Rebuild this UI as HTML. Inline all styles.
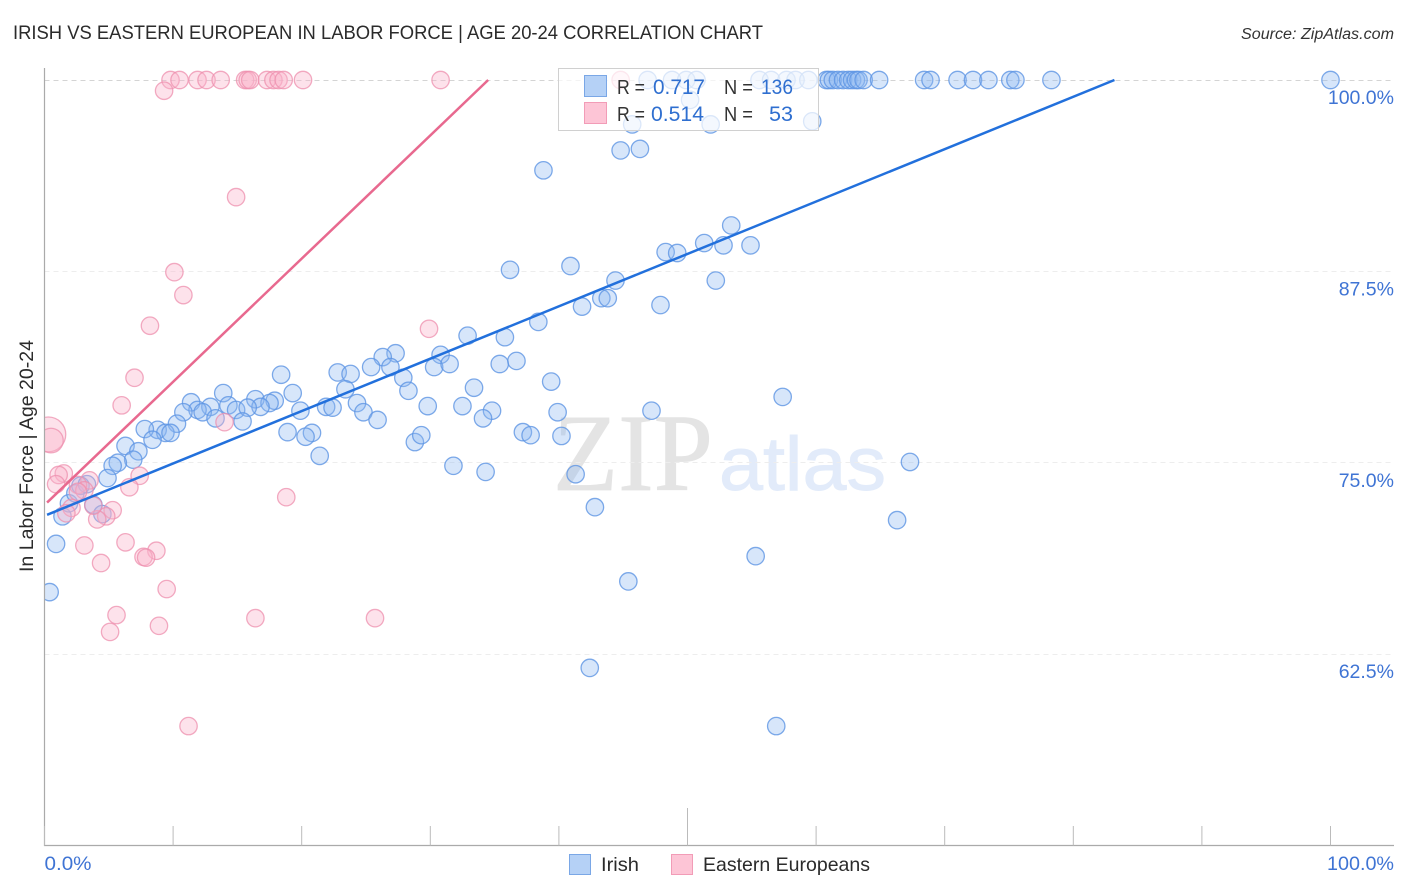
<!DOCTYPE html>
<html lang="en">
<head>
<meta charset="utf-8">
<title>Irish vs Eastern European in Labor Force | Age 20-24 Correlation Chart</title>
<style>
html,body{margin:0;padding:0;background:#fff;width:1406px;height:892px;overflow:hidden}
svg{display:block;font-family:"Liberation Sans",sans-serif}
</style>
</head>
<body>
<svg id="chart" xmlns="http://www.w3.org/2000/svg" width="1406" height="892" viewBox="0 0 1406 892">
  <text x="13" y="39" font-size="19.5" fill="#2b2b2b" textLength="750" lengthAdjust="spacingAndGlyphs">IRISH VS EASTERN EUROPEAN IN LABOR FORCE | AGE 20-24 CORRELATION CHART</text>
  <text x="1241" y="39" font-size="15.5" font-style="italic" fill="#333" textLength="153" lengthAdjust="spacingAndGlyphs">Source: ZipAtlas.com</text>
  <g>
    <text x="553" y="490" font-family="'Liberation Serif',serif" font-size="110" fill="#e4e4e4" stroke="#e4e4e4" stroke-width="0.8" textLength="160" lengthAdjust="spacingAndGlyphs">ZIP</text>
    <text x="719" y="490" font-size="76" fill="#e2ebfa" stroke="#e2ebfa" stroke-width="0.9" textLength="167" lengthAdjust="spacingAndGlyphs">atlas</text>
  </g>
  <g id="grid"></g>
  <g id="series-irish"></g>
  <g id="series-eastern"></g>
  <rect x="0" y="60" width="44.5" height="790" fill="#fff"/>
  <g id="trends"></g>
  <g id="axes"></g>
  <text transform="translate(33,572) rotate(-90)" font-size="19" fill="#2b2b2b" textLength="232" lengthAdjust="spacingAndGlyphs">In Labor Force | Age 20-24</text>

  <g>
    <rect x="558.5" y="68.5" width="260" height="62" fill="#fff" fill-opacity="0.72" stroke="#d0d0d0" stroke-width="1"/>
    <rect x="584.5" y="75.5" width="22" height="21" fill="#b5d1f6" stroke="#7aa7e6" stroke-width="1"/>
    <rect x="584.5" y="102.5" width="22" height="21" fill="#fdc5d6" stroke="#f29cb7" stroke-width="1"/>
    <text x="617" y="94" font-size="20" fill="#333" textLength="28" lengthAdjust="spacingAndGlyphs">R =</text>
    <text x="653" y="94" font-size="21" fill="#2f6fd0" textLength="52" lengthAdjust="spacingAndGlyphs">0.717</text>
    <text x="724" y="94" font-size="20" fill="#333" textLength="29" lengthAdjust="spacingAndGlyphs">N =</text>
    <text x="761" y="94" font-size="21" fill="#2f6fd0" textLength="32" lengthAdjust="spacingAndGlyphs">136</text>
    <text x="617" y="121" font-size="20" fill="#333" textLength="28" lengthAdjust="spacingAndGlyphs">R =</text>
    <text x="651" y="121" font-size="21" fill="#2f6fd0" textLength="53" lengthAdjust="spacingAndGlyphs">0.514</text>
    <text x="724" y="121" font-size="20" fill="#333" textLength="29" lengthAdjust="spacingAndGlyphs">N =</text>
    <text x="769" y="121" font-size="21" fill="#2f6fd0" textLength="24" lengthAdjust="spacingAndGlyphs">53</text>
  </g>

  <g>
    <g>
      <rect x="569.5" y="854.5" width="21" height="20" fill="#b5d1f6" stroke="#7aa7e6" stroke-width="1"/>
      <text x="601" y="871" font-size="19.5" fill="#2b2b2b" textLength="38" lengthAdjust="spacingAndGlyphs">Irish</text>
    </g>
    <g>
      <rect x="671.5" y="854.5" width="21" height="20" fill="#fdc5d6" stroke="#f29cb7" stroke-width="1"/>
      <text x="703" y="871" font-size="19.5" fill="#2b2b2b" textLength="167" lengthAdjust="spacingAndGlyphs">Eastern Europeans</text>
    </g>
  </g>
</svg>
<script>
const yGridValues = [100, 87.5, 75, 62.5];
const yTickLabels = ["100.0%", "87.5%", "75.0%", "62.5%"];
const xTickValues = [0, 10, 20, 30, 40, 50, 60, 70, 80, 90, 100];
const xEndValues = [0, 100];
const xEndLabels = ["0.0%", "100.0%"];

const irishX = [46.9,48.8,49.9,50.7,55.6,56.5,57.7,58.4,59.4,60.8,61.0,61.3,61.7,62.1,62.5,62.8,63.1,63.3,63.7,64.9,68.4,68.9,71.0,72.2,73.4,75.1,75.5,78.3,100,
50.2,45.7,51.8,59.7,44.8,46.3,38.8,53.4,51.3,52.8,54.9,48.3,49.2,36.2,40.9,44.4,52.2,43.3,43.8,41.8,47.9,38.4,35.8,32.9,30.8,30.3,31.5,27.3,26.3,26.9,25.4,22.8,23.8,18.4,23.4,27.9,28.3,35.4,36.7,39.4,33.4,29.8,32.5,34.8,34.1,39.9,47.2,57.4,
13.9,11.4,19.3,16.4,17.9,17.5,16.8,14.3,12.9,11.9,10.8,12.3,13.3,14.9,15.8,15.4,19.9,21.9,22.4,24.3,24.8,25.9,10.3,8.8,7.8,9.4,9.8,8.4,6.3,7.3,6.9,5.7,5.3,4.9,18.9,20.8,20.3,21.4,28.8,29.3,37.2,37.8,40.2,31.8,34.3,41.3,67.3,42.8,66.3,55.3,45.4,42.4,56.9,0.4,0.9,1.4,1.9,2.4,2.8,3.3,3.8,4.5];
const irishY = [100,100,100,100,100,100,100,100,100,100,100,100,100,100,100,100,100,100,100,100,100,100,100,100,100,100,100,100,100,
98.7,97.1,97.1,97.3,95.4,95.5,94.1,90.5,89.35,89.2,89.2,88.76,88.7,87.6,87.85,86.9,86.9,85.75,85.75,85.2,85.3,84.2,83.2,83.3,82.05,81.25,81.45,82.15,81.9,81.25,81.25,80.9,80.8,80.75,79.8,80.55,79.7,81.45,81.65,80.3,79.9,78.7,78.7,78.4,77.9,78.3,78.4,79.3,
79.55,78.95,79.55,79.15,79.05,78.9,78.65,78.75,78.65,78.45,78.3,78.3,77.9,78.45,78.6,77.7,78.4,78.65,78.6,78.9,78.3,77.8,77.55,77.15,77.2,76.95,76.95,76.5,76.1,75.75,75.2,75.0,74.8,74.0,77.0,76.95,76.7,75.45,76.35,76.8,77.0,76.8,76.75,74.8,74.4,74.25,75.05,72.1,71.25,68.9,67.25,61.6,57.8,66.55,69.7,71.5,72.35,73.0,73.5,73.6,72.25,71.65];

const easternX = [9.8,10.5,11.9,12.6,13.7,15.6,15.8,16.0,17.3,17.8,18.2,18.6,20.1,30.8,44.8,9.3,14.9,10.1,10.8,8.2,29.9,7.0,6.0,14.0,0.3,0.5,1.5,1.1,0.9,3.5,2.6,3.1,2.6,7.4,6.6,2.1,1.7,5.3,4.8,4.1,3.8,18.8,3.1,6.3,8.7,7.7,7.9,4.4,9.5,5.6,5.1,8.9,16.4,25.7,11.2];
const easternY = [100,100,100,100,100,100,100,100,100,100,100,100,100,100,100,99.3,92.35,87.45,85.95,83.95,83.75,80.55,78.75,77.65,76.85,76.45,74.3,74.2,73.6,73.85,73.55,73.2,73.1,74.15,73.4,72.05,71.7,71.9,71.5,71.3,72.2,72.75,69.6,69.8,69.25,68.85,68.8,68.45,66.75,65.05,63.95,64.35,64.85,64.85,57.8];
const easternWeights = [1,1,1,1,1,1,1,1,1,1,1,1,1,1,1,1,1,1,1,1,1,1,1,1,4,2,1,1,1,1,1,1,1,1,1,1,1,1,1,1,1,1,1,1,1,1,1,1,1,1,1,1,1,1,1];

const irishTrendX = [0.2, 83.2];
const irishTrendY = [71.6, 100];
const easternTrendX = [0.2, 34.5];
const easternTrendY = [72.4, 100];

const NS = "http://www.w3.org/2000/svg";
function xs(v){ return 44.5 + v * 12.86; }
function ys(v){ return 845.5 - (v - 50) * 15.31; }
function make(tag, attrs, parent){
  const el = document.createElementNS(NS, tag);
  for (const k in attrs) el.setAttribute(k, attrs[k]);
  parent.appendChild(el);
  return el;
}

const grid = document.getElementById("grid");
const axes = document.getElementById("axes");

yGridValues.forEach(function(v, i){
  const gy = Math.floor(ys(v)) + 0.5;
  const line = make("line", {x1:44.5, x2:1394, y1:gy, y2:gy, stroke:i===0?"#d4d4d4":"#ededed", "stroke-width":1, "stroke-dasharray":"5 4"}, grid);
  
  
  const label = make("text", {x:1394, y:ys(v)+24, "font-size":19.5, fill:"#3f74d4", "text-anchor":"end"}, axes);
  label.textContent = yTickLabels[i];
  
  
});

const yAxis = make("line", {x1:44.5, x2:44.5, y1:68, y2:846, stroke:"#aaaaaa", "stroke-width":1.2}, axes);


const xAxis = make("line", {x1:44, x2:1394, y1:845.5, y2:845.5, stroke:"#aaaaaa", "stroke-width":1.2}, axes);



xTickValues.forEach(function(v){
  const top = v === 50 ? 808 : 826;
  const tick = make("line", {x1:xs(v), x2:xs(v), y1:top, y2:845.5, stroke:"#bbbbbb", "stroke-width":1}, axes);
  
  
});

xEndValues.forEach(function(v, i){
  const anchor = i === 0 ? "start" : "end";
  const px = i === 0 ? xs(v) : 1394;
  const label = make("text", {x:px, y:870, "font-size":19.5, fill:"#3f74d4", "text-anchor":anchor, textLength:i===0?47:67, lengthAdjust:"spacingAndGlyphs"}, axes);
  label.textContent = xEndLabels[i];
  
  
});

const irishGroup = document.getElementById("series-irish");
irishX.forEach(function(v, i){
  const c = make("circle", {cx:xs(v), cy:ys(irishY[i]), r:8.7, fill:"#8db8f2", "fill-opacity":0.35, stroke:"#5e95e4", "stroke-opacity":0.8, "stroke-width":1.3}, irishGroup);
  
  
});

const easternGroup = document.getElementById("series-eastern");
easternX.forEach(function(v, i){
  const radius = 8.7 * Math.sqrt(easternWeights[i]);
  const c = make("circle", {cx:xs(v), cy:ys(easternY[i]), r:radius, fill:"#fbb4ca", "fill-opacity":0.38, stroke:"#ee8fae", "stroke-opacity":0.75, "stroke-width":1.3}, easternGroup);
  
  
});

const trends = document.getElementById("trends");
const easternLine = make("line", {x1:xs(easternTrendX[0]), y1:ys(easternTrendY[0]), x2:xs(easternTrendX[1]), y2:ys(easternTrendY[1]), stroke:"#e8698f", "stroke-width":2.5}, trends);


const irishLine = make("line", {x1:xs(irishTrendX[0]), y1:ys(irishTrendY[0]), x2:xs(irishTrendX[1]), y2:ys(irishTrendY[1]), stroke:"#2270dc", "stroke-width":2.5}, trends);


</script>
</body>
</html>
